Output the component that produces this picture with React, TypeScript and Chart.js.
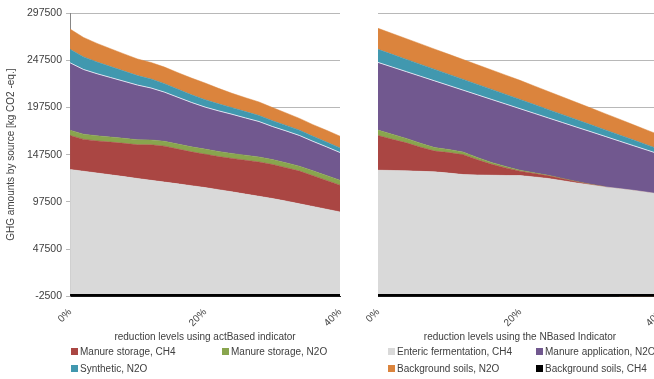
import React, { useEffect, useRef } from 'react';
import { Chart, registerables } from 'chart.js';

Chart.register(...registerables);

// ---------- data ----------
const levels = ['0%', '2%', '4%', '6%', '8%', '10%', '12%', '14%', '16%', '18%', '20%', '22%', '24%', '26%', '28%', '30%', '32%', '34%', '36%', '38%', '40%'];
const yTicks = [-2500, 47500, 97500, 147500, 197500, 247500, 297500];

const seriesNames = [
  'Background soils, CH4',
  'Enteric fermentation, CH4',
  'Manure storage, CH4',
  'Manure storage, N2O',
  'Manure application, N2O',
  'Synthetic, N2O',
  'Background soils, N2O',
];
const seriesColors = ['#000000', '#d9d9d9', '#aa4643', '#89a54e', '#71588f', '#4198af', '#db843d'];

// actBased indicator panel
const actBgCH4 = [-2400, -2400, -2400, -2400, -2400, -2400, -2400, -2400, -2400, -2400, -2400, -2400, -2400, -2400, -2400, -2400, -2400, -2400, -2400, -2400, -2400];
const actEnteric = [131800, 130000, 128100, 126200, 124300, 122300, 120400, 118500, 116600, 114700, 112700, 110500, 108200, 105800, 103500, 101100, 98400, 95500, 92700, 89800, 86900];
const actStorCH4 = [36000, 33700, 34000, 34600, 35200, 35700, 37500, 38000, 36800, 35800, 35300, 35000, 35300, 35800, 36300, 36000, 35300, 34600, 32500, 30400, 28300];
const actStorN2O = [5600, 5500, 5400, 5400, 5300, 5300, 5200, 5200, 5300, 5300, 5400, 5400, 5300, 5300, 5300, 5200, 5200, 5200, 5200, 5300, 5300];
const actAppN2O = [71400, 68500, 65700, 63000, 60400, 57900, 55000, 52000, 49500, 47000, 44500, 43000, 41500, 39500, 37500, 35000, 33800, 32500, 31200, 30300, 29300];
const actSynN2O = [14200, 13300, 12400, 11600, 10800, 10000, 9500, 9000, 8500, 8100, 7800, 7400, 7000, 6700, 6400, 6100, 5800, 5600, 5300, 5100, 4900];
const actBgN2O = [21500, 20600, 19700, 18900, 18200, 17600, 17500, 17500, 17600, 17700, 17700, 16400, 15200, 14700, 14300, 14000, 13200, 12500, 12400, 12400, 12400];

// NBased indicator panel
const nBgCH4 = [-2400, -2400, -2400, -2400, -2400, -2400, -2400, -2400, -2400, -2400, -2400, -2400, -2400, -2400, -2400, -2400, -2400, -2400, -2400, -2400, -2400];
const nEnteric = [131100, 130800, 130400, 129900, 129300, 128000, 126500, 126100, 125800, 125500, 125400, 124000, 122300, 120000, 117600, 115500, 113400, 111600, 109800, 107700, 105600];
const nStorCH4 = [36700, 33000, 29600, 25500, 22000, 21700, 21000, 16000, 11500, 8000, 4600, 3600, 2800, 2000, 1200, 500, 200, 0, 0, 0, 0];
const nStorN2O = [5700, 5300, 4700, 4200, 3700, 3300, 2800, 2400, 2000, 1500, 1100, 800, 600, 400, 300, 150, 50, 0, 0, 0, 0];
const nAppN2O = [71700, 71200, 70700, 70900, 70600, 67700, 65500, 66400, 66700, 66100, 65100, 62900, 60700, 59100, 57500, 55600, 53200, 50300, 47200, 44400, 41600];
const nSynN2O = [13800, 13400, 13000, 12600, 12200, 11800, 11400, 11000, 10600, 10200, 9800, 9300, 8800, 8400, 7900, 7400, 6900, 6500, 6000, 5500, 5000];
const nBgN2O = [22300, 22100, 21900, 21700, 21400, 21200, 21000, 20800, 20600, 20400, 20200, 19700, 19200, 18700, 18200, 17700, 17200, 16700, 16100, 15600, 15100];

const actSeries = [actBgCH4, actEnteric, actStorCH4, actStorN2O, actAppN2O, actSynN2O, actBgN2O];
const nSeries = [nBgCH4, nEnteric, nStorCH4, nStorN2O, nAppN2O, nSynN2O, nBgN2O];

const leftTitle = 'reduction levels using actBased indicator';
const rightTitle = 'reduction levels using the NBased Indicator';
const yTitle = 'GHG amounts by source [kg CO2 -eq.]';

// legend layout: which series, under which panel
const leftLegend = [2, 3, 5];
const rightLegend = [1, 4, 6, 0];

const FONT = "'Liberation Sans', Arial, sans-serif";
const TEXT = '#404040';

function buildConfig(series: number[][], title: string, showY: boolean, padding: any): any {
  const datasets = series.map((vals, k) => ({
    label: seriesNames[k],
    data: vals,
    backgroundColor: seriesColors[k],
    borderColor: k === 4 ? 'rgba(235,240,250,0.85)' : seriesColors[k],
    borderWidth: k === 4 ? 1 : 0.5,
    pointRadius: 0,
    tension: 0,
    fill: k <= 1 ? 'origin' : '-1',
  }));
  return {
    type: 'line',
    data: { labels: levels, datasets },
    options: {
      animation: false,
      responsive: false,
      maintainAspectRatio: false,
      layout: { padding },
      plugins: { legend: { display: false }, tooltip: { enabled: false } },
      scales: {
        x: {
          type: 'category',
          offset: false,
          grid: { display: false },
          border: { display: true, color: '#1a1a1a', width: 1 },
          ticks: {
            autoSkip: false,
            maxRotation: 45,
            minRotation: 45,
            padding: 2,
            color: TEXT,
            font: { family: FONT, size: 10 },
            callback: (_v: any, i: number) => (i % 10 === 0 ? levels[i] : ''),
          },
          title: { display: true, text: title, color: TEXT, font: { family: FONT, size: 10 }, padding: { top: 0, bottom: 0 } },
        },
        y: {
          stacked: true,
          min: -2500,
          max: 297500,
          afterBuildTicks: (s: any) => {
            s.ticks = yTicks.map((v) => ({ value: v }));
          },
          grid: { color: '#b8b8b8', lineWidth: 1, drawTicks: showY, tickLength: 4 },
          border: { display: showY, color: '#868686' },
          ticks: {
            display: showY,
            padding: 4,
            color: TEXT,
            font: { family: FONT, size: 10.5 },
            callback: (v: any) => String(v),
          },
          title: { display: showY, text: yTitle, color: TEXT, font: { family: FONT, size: 10 }, padding: { top: 0, bottom: 6 } },
        },
      },
    },
  };
}

function Panel(props: { series: number[][]; title: string; showY: boolean; left: number; width: number; height: number; padding: any }) {
  const ref = useRef<HTMLCanvasElement | null>(null);
  useEffect(() => {
    if (!ref.current) return;
    const chart = new Chart(ref.current, buildConfig(props.series, props.title, props.showY, props.padding));
    return () => chart.destroy();
  }, []);
  return (
    <canvas
      ref={ref}
      width={props.width}
      height={props.height}
      style={{ position: 'absolute', left: props.left, top: 0, width: props.width, height: props.height }}
    />
  );
}

function LegendItem(props: { idx: number; x: number; y: number }) {
  return (
    <div style={{ position: 'absolute', left: props.x, top: props.y, display: 'flex', alignItems: 'center', whiteSpace: 'nowrap', font: `10px ${FONT}`, color: TEXT }}>
      <span style={{ display: 'inline-block', width: 7, height: 7, background: seriesColors[props.idx], marginRight: 2 }} />
      <span>{seriesNames[props.idx]}</span>
    </div>
  );
}

export default function App() {
  const colX = [71, 222, 388, 536];
  const rowY = [346, 363];
  return (
    <div style={{ position: 'fixed', left: 0, top: 0, width: 654, height: 379, overflow: 'hidden', background: '#fff' }}>
      <Panel series={actSeries} title={leftTitle} showY={true} left={0} width={352} height={347} padding={{ left: 5, right: 12, top: 13, bottom: 4 }} />
      <Panel series={nSeries} title={rightTitle} showY={false} left={346} width={330} height={347} padding={{ left: 32, right: 14, top: 13, bottom: 4 }} />
      <LegendItem idx={leftLegend[0]} x={colX[0]} y={rowY[0]} />
      <LegendItem idx={leftLegend[1]} x={colX[1]} y={rowY[0]} />
      <LegendItem idx={leftLegend[2]} x={colX[0]} y={rowY[1]} />
      <LegendItem idx={rightLegend[0]} x={colX[2]} y={rowY[0]} />
      <LegendItem idx={rightLegend[1]} x={colX[3]} y={rowY[0]} />
      <LegendItem idx={rightLegend[2]} x={colX[2]} y={rowY[1]} />
      <LegendItem idx={rightLegend[3]} x={colX[3]} y={rowY[1]} />
    </div>
  );
}
